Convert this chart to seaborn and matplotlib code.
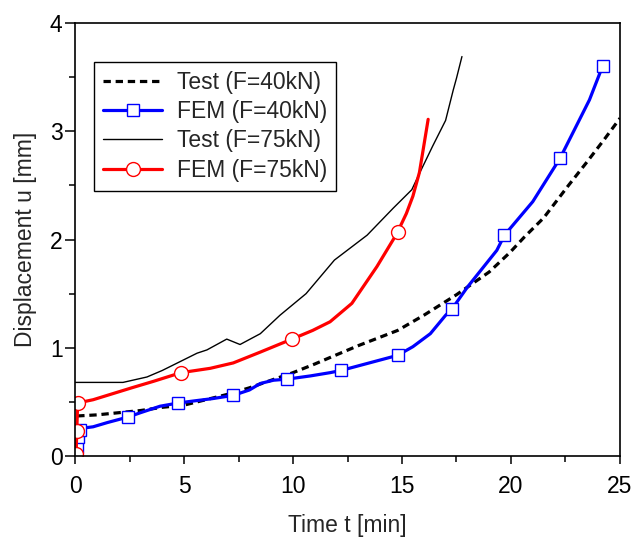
import matplotlib
matplotlib.use("Agg")
import matplotlib.pyplot as plt
import seaborn as sns
from matplotlib.ticker import MultipleLocator

# =========================
# DATA
# =========================
test40_t = [0.1, 1.0, 2.0, 3.0, 4.0, 5.0, 6.0, 7.0, 8.0, 9.0, 10.0, 11.0, 11.7, 13.0,
            14.8, 16.0, 17.5, 19.0, 19.95, 20.6, 21.5, 22.6, 23.5, 24.3, 25.0]
test40_u = [0.37, 0.38, 0.40, 0.42, 0.45, 0.47, 0.52, 0.57, 0.63, 0.70, 0.77, 0.85, 0.91, 1.02,
            1.16, 1.30, 1.49, 1.70, 1.88, 2.02, 2.20, 2.49, 2.72, 2.93, 3.12]

fem40_t = [0.0, 0.05, 0.1, 0.15, 0.25, 0.45, 0.83, 1.5, 2.43, 3.0, 3.9, 4.74, 5.5, 6.3,
           7.26, 8.0, 8.5, 9.1, 9.72, 10.8, 11.7, 12.2, 13.5, 14.8, 15.5, 16.3, 17.0,
           17.3, 18.0, 19.35, 19.7, 21.0, 22.25, 23.6, 24.2]
fem40_u = [0.0, 0.03, 0.08, 0.18, 0.24, 0.26, 0.27, 0.31, 0.36, 0.40, 0.46, 0.49, 0.51, 0.53,
           0.56, 0.61, 0.67, 0.70, 0.71, 0.74, 0.77, 0.79, 0.86, 0.93, 1.01, 1.13, 1.30,
           1.36, 1.56, 1.90, 2.04, 2.35, 2.75, 3.29, 3.60]
fem40_marks = [1, 2, 3, 4, 8, 11, 14, 18, 21, 23, 27, 30, 32, 34]

test75_t = [0.0, 1.0, 2.2, 3.3, 4.0, 4.7, 5.6, 6.05, 6.96, 7.57, 8.5, 9.4, 10.0, 10.6,
            11.9, 13.4, 14.6, 15.45, 15.8, 16.4, 17.0, 17.35, 17.5, 17.75]
test75_u = [0.68, 0.68, 0.68, 0.73, 0.79, 0.86, 0.95, 0.98, 1.08, 1.03, 1.13, 1.30, 1.40, 1.50,
            1.81, 2.04, 2.29, 2.46, 2.61, 2.86, 3.10, 3.38, 3.49, 3.69]

fem75_t = [0.0, 0.05, 0.08, 0.12, 0.83, 2.6, 3.6, 4.86, 6.2, 7.26, 8.5, 9.95, 10.9,
           11.7, 12.7, 13.85, 14.6, 14.8, 15.2, 15.5, 15.8, 16.2]
fem75_u = [0.0, 0.02, 0.23, 0.49, 0.52, 0.63, 0.69, 0.77, 0.81, 0.86, 0.96, 1.08, 1.16,
           1.24, 1.41, 1.75, 2.00, 2.07, 2.24, 2.40, 2.62, 3.11]
fem75_marks = [1, 2, 3, 7, 11, 17]

# =========================
# SETTINGS
# =========================
sns.set_style("white")
plt.rcParams["font.family"] = ["Liberation Sans", "DejaVu Sans"]

fig = plt.figure(figsize=(6.44, 5.37), dpi=100)
ax = fig.add_axes([0.1165, 0.1508, 0.8462, 0.8064])

# =========================
# PLOT
# =========================
sns.lineplot(x=test40_t, y=test40_u, ax=ax, sort=False, estimator=None,
             color="black", linewidth=2.3, linestyle=(0, (2.3, 1.5)),
             label="Test (F=40kN)")
sns.lineplot(x=fem40_t, y=fem40_u, ax=ax, sort=False, estimator=None,
             color="#0000ff", linewidth=2.3, marker="s", markersize=9,
             markerfacecolor="white", markeredgecolor="#0000ff", markeredgewidth=1.0,
             markevery=fem40_marks, label="FEM (F=40kN)")
sns.lineplot(x=test75_t, y=test75_u, ax=ax, sort=False, estimator=None,
             color="black", linewidth=1.0, label="Test (F=75kN)")
sns.lineplot(x=fem75_t, y=fem75_u, ax=ax, sort=False, estimator=None,
             color="#ff0000", linewidth=2.3, marker="o", markersize=10,
             markerfacecolor="white", markeredgecolor="#ff0000", markeredgewidth=1.0,
             markevery=fem75_marks, label="FEM (F=75kN)")

ax.set_xlim(0, 25)
ax.set_ylim(0, 4)
ax.xaxis.set_major_locator(MultipleLocator(5))
ax.xaxis.set_minor_locator(MultipleLocator(2.5))
ax.yaxis.set_major_locator(MultipleLocator(1))
ax.yaxis.set_minor_locator(MultipleLocator(0.5))
ax.tick_params(which="both", direction="out", bottom=True, left=True,
               top=False, right=False, width=1.1, labelsize=16.5, colors="black")
ax.tick_params(axis="x", which="major", length=6, pad=8)
ax.tick_params(axis="y", which="major", length=7, pad=2)
ax.tick_params(which="minor", length=4)
for sp in ax.spines.values():
    sp.set_color("black")
    sp.set_linewidth(1.2)

ax.set_xlabel("Time t [min]", fontsize=16.5, labelpad=11)
ax.set_ylabel("Displacement u [mm]", fontsize=16.5, labelpad=9)

leg = ax.legend(loc="upper left", bbox_to_anchor=(0.035, 0.91), fontsize=16.5,
                frameon=True, fancybox=False, framealpha=1, edgecolor="black",
                handlelength=2.6, handletextpad=0.65, labelspacing=0.28,
                borderpad=0.38, borderaxespad=0)
leg.get_frame().set_linewidth(1.0)

fig.savefig("out.png", dpi=100)
